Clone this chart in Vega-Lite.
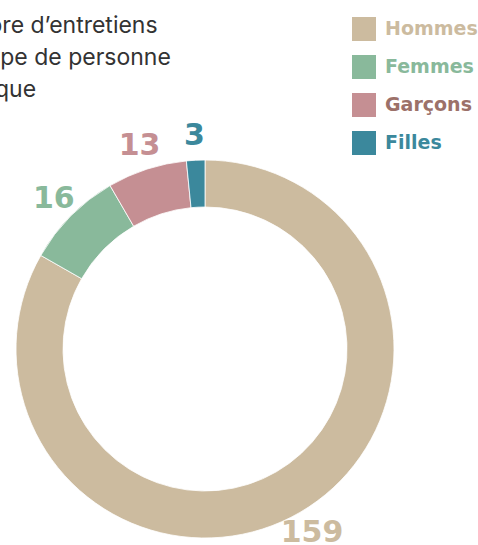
{
  "$schema": "https://vega.github.io/schema/vega-lite/v6.json",
  "width": 410,
  "height": 392,
  "autosize": {"type": "none"},
  "padding": {"top": 153, "left": 0, "right": 68, "bottom": 0},
  "background": "white",
  "config": {"view": {"stroke": null}},
  "title": {
    "text": ["Nombre d’entretiens", "par type de personne", "physique"],
    "anchor": "start",
    "frame": "group",
    "orient": "top",
    "dx": -63,
    "offset": -85,
    "font": "Inter",
    "fontSize": 23,
    "fontWeight": 400,
    "color": "#333333",
    "lineHeight": 32
  },
  "data": {
    "values": [
      {"type": "Hommes", "n": 159},
      {"type": "Femmes", "n": 16},
      {"type": "Garçons", "n": 13},
      {"type": "Filles", "n": 3}
    ]
  },
  "encoding": {
    "theta": {"field": "n", "type": "quantitative", "stack": true},
    "order": {"field": "n", "sort": "descending"},
    "color": {
      "field": "type",
      "type": "nominal",
      "scale": {
        "domain": ["Hommes", "Femmes", "Garçons", "Filles"],
        "range": ["#ccbb9f", "#89b99b", "#c58f93", "#3b889c"]
      },
      "legend": {
        "orient": "none",
        "legendX": 352,
        "legendY": -136,
        "title": null,
        "symbolType": "square",
        "symbolSize": 576,
        "symbolStrokeWidth": 0,
        "symbolOpacity": 1,
        "labelFont": "DejaVu Sans",
        "labelFontSize": 19,
        "labelFontWeight": 700,
        "labelOffset": 9,
        "rowPadding": 14,
        "encode": {
          "labels": {
            "update": {
              "fill": {"signal": "datum.value === 'Garçons' ? '#9c7169' : scale('color', datum.value)"}
            }
          }
        }
      }
    }
  },
  "layer": [
    {
      "mark": {"type": "arc", "outerRadius": 189, "innerRadius": 142, "stroke": "white", "strokeWidth": 0.8}
    },
    {
      "mark": {"type": "text", "radius": 213, "font": "DejaVu Sans", "fontSize": 30, "fontWeight": 700},
      "encoding": {
        "text": {"field": "n", "type": "quantitative"}
      }
    }
  ]
}
